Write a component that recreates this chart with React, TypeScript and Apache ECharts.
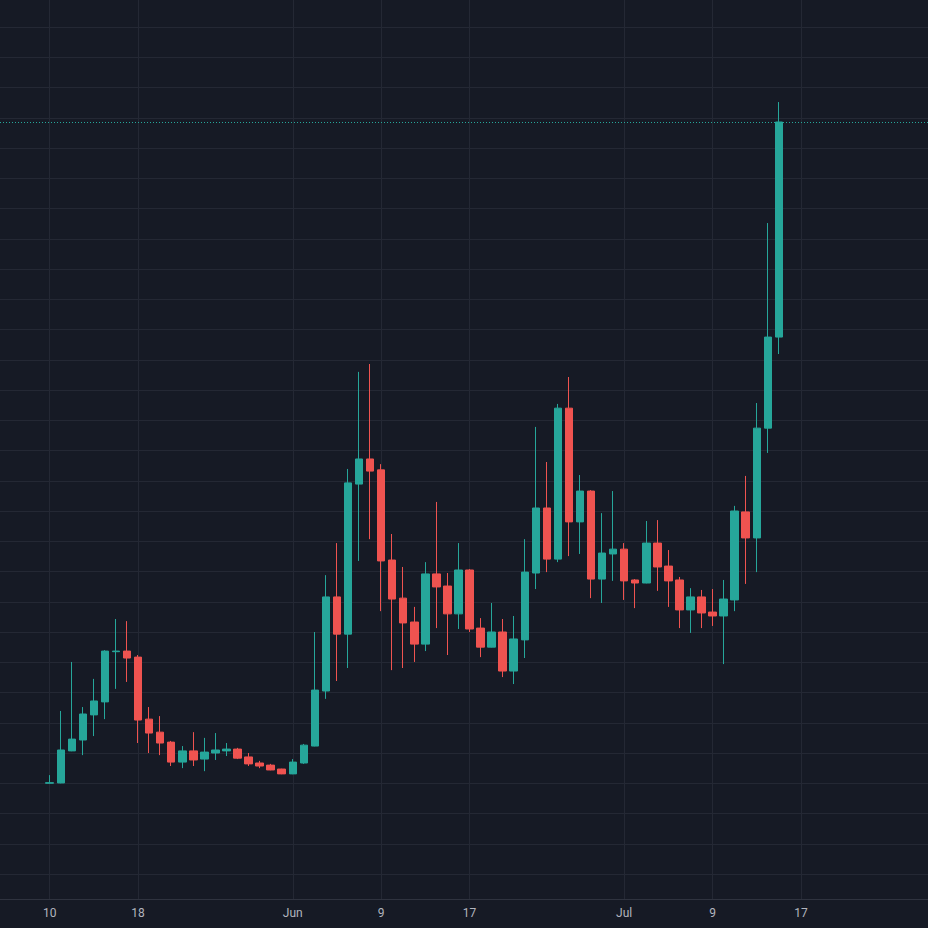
import React, { useEffect, useRef } from "react";
import * as echarts from "echarts";

// Axis range (daily categories) and first candle date
const axisStart = "2024-05-06";
const axisEnd = "2024-07-28";
const firstCandle = "2024-05-10";

// OHLC values (arbitrary price units), one per day from firstCandle
const opens = [
  130.0, 130.1, 140.7, 144.3, 152.6, 156.9, 173.5, 173.7, 171.7, 151.2,
  146.9, 143.6, 137.0, 140.7, 138.0, 140.0, 140.7, 141.3, 138.7, 136.7,
  136.0, 134.7, 133.1, 136.7, 142.3, 160.5, 191.6, 179.3, 228.9, 237.2,
  233.6, 203.8, 191.2, 183.3, 176.0, 199.2, 195.2, 186.0, 200.5, 181.3,
  175.0, 180.0, 167.1, 177.4, 199.5, 221.0, 204.1, 254.0, 216.4, 226.6,
  197.5, 205.8, 207.4, 197.2, 196.2, 209.4, 201.8, 197.2, 187.3, 191.6,
  186.6, 185.3, 190.6, 219.7, 211.1, 247.4, 277.5,
];
const closes = [
  130.2, 141.0, 144.6, 152.9, 157.2, 173.7, 173.7, 171.4, 150.9, 146.6,
  143.3, 137.0, 140.7, 137.7, 140.3, 141.0, 141.3, 138.3, 136.4, 135.7,
  134.4, 133.1, 137.0, 142.6, 160.8, 191.6, 179.3, 229.3, 237.2, 233.2,
  203.5, 190.9, 183.0, 176.0, 199.2, 194.9, 186.0, 200.5, 181.0, 175.0,
  180.0, 167.1, 177.7, 199.8, 221.0, 204.1, 254.0, 216.4, 226.6, 197.5,
  206.1, 207.4, 196.9, 196.2, 209.4, 201.5, 196.9, 187.3, 191.6, 186.3,
  185.3, 190.9, 220.0, 211.1, 247.4, 277.5, 348.6,
];
const lows = [
  129.9, 130.0, 140.6, 139.3, 145.6, 151.2, 161.2, 163.5, 143.3, 140.0,
  139.3, 135.7, 135.0, 135.7, 134.0, 137.7, 139.0, 138.0, 135.7, 135.0,
  134.3, 133.0, 133.0, 136.4, 142.2, 157.9, 163.8, 168.1, 203.5, 210.7,
  186.9, 167.4, 168.1, 170.1, 173.7, 181.3, 172.4, 181.0, 180.0, 171.7,
  174.9, 165.1, 162.8, 171.4, 194.2, 199.8, 203.1, 205.1, 205.8, 191.2,
  189.6, 196.9, 190.6, 187.9, 196.1, 193.6, 188.3, 181.3, 179.7, 181.3,
  182.0, 169.4, 186.9, 195.9, 199.8, 239.2, 271.9,
];
const highs = [
  132.7, 153.9, 170.1, 155.2, 164.5, 174.0, 184.3, 183.6, 172.4, 155.2,
  152.2, 144.0, 142.3, 146.9, 145.0, 146.6, 143.3, 141.7, 140.0, 137.4,
  136.4, 134.8, 138.0, 143.0, 180.0, 198.8, 209.4, 233.9, 266.0, 268.6,
  235.5, 212.4, 201.5, 188.3, 203.1, 223.0, 199.5, 209.4, 200.8, 184.6,
  189.6, 184.3, 185.3, 210.7, 247.8, 236.2, 255.4, 264.3, 231.9, 226.9,
  219.3, 226.6, 209.4, 197.5, 216.7, 217.0, 207.1, 198.2, 194.5, 193.9,
  194.2, 197.2, 221.7, 231.6, 255.7, 315.2, 355.2,
];

// X-axis tick positions and their labels
const tickDates = [
  "2024-05-10", "2024-05-18", "2024-06-01", "2024-06-09",
  "2024-06-17", "2024-07-01", "2024-07-09", "2024-07-17",
];
const tickLabels = ["10", "18", "Jun", "9", "17", "Jul", "9", "17"];

// Horizontal grid levels and value range
const gridLevels = [
  100, 110, 120, 130, 140, 150, 160, 170, 180, 190, 200, 210, 220, 230, 240,
  250, 260, 270, 280, 290, 300, 310, 320, 330, 340, 350, 360, 370, 380,
];
const yMin = 91.74;
const yMax = 388.93;
const lastPrice = closes[closes.length - 1];

function dayList(start: string, count?: number, end?: string): string[] {
  const out: string[] = [];
  const d = new Date(start + "T00:00:00Z");
  const e = end ? new Date(end + "T00:00:00Z") : null;
  while (e ? d <= e : out.length < (count || 0)) {
    out.push(d.toISOString().slice(0, 10));
    d.setUTCDate(d.getUTCDate() + 1);
  }
  return out;
}

const categories = dayList(axisStart, undefined, axisEnd);
const candleDates = dayList(firstCandle, opens.length);

const UP = "#26a69a";
const DOWN = "#ef5350";
const BG = "#161a25";
const GRID = "#242834";

export default function App() {
  const ref = useRef<HTMLDivElement>(null);
  useEffect(() => {
    if (!ref.current) return;
    const chart = echarts.init(ref.current, undefined, { renderer: "svg" });
    const isTick = (_i: number, v: string) => tickDates.indexOf(v) >= 0;
    chart.setOption({
      animation: false,
      backgroundColor: BG,
      grid: { left: 0, right: 0, top: 0, bottom: 29, containLabel: false },
      xAxis: {
        type: "category",
        data: categories,
        boundaryGap: true,
        axisLine: { show: true, lineStyle: { color: "#2f333f", width: 1 } },
        axisTick: { show: false },
        axisLabel: {
          interval: isTick,
          margin: 8,
          color: "#b2b5be",
          fontSize: 12,
          fontFamily: "Roboto, 'Liberation Sans', sans-serif",
          formatter: (v: string) => {
            const k = tickDates.indexOf(v);
            return k >= 0 ? tickLabels[k] : "";
          },
        },
        splitLine: { show: false },
      },
      yAxis: {
        type: "value",
        min: yMin,
        max: yMax,
        show: true,
        axisLine: { show: false },
        axisTick: { show: false },
        axisLabel: { show: false },
        splitLine: { show: false },
      },
      series: [
        {
          type: "line",
          data: [],
          silent: true,
          markLine: {
            silent: true,
            symbol: "none",
            z: 0,
            label: { show: false },
            lineStyle: { color: GRID, width: 1, type: "solid" },
            emphasis: { disabled: true },
            data: [
              ...gridLevels.map((v) => ({ yAxis: v })),
              ...tickDates.map((d) => ({ xAxis: d })),
            ],
          },
        },
        {
          type: "candlestick",
          z: 3,
          barWidth: 8,
          encode: { x: 0, y: [1, 2, 3, 4] },
          data: opens.map((o, i) => [candleDates[i], o, closes[i], lows[i], highs[i]]),
          itemStyle: {
            color: UP,
            color0: DOWN,
            borderColor: UP,
            borderColor0: DOWN,
            borderWidth: 1,
          },
          markLine: {
            silent: true,
            symbol: "none",
            z: 5,
            label: { show: false },
            lineStyle: { color: UP, width: 1, type: [1, 2] },
            emphasis: { disabled: true },
            data: [{ yAxis: lastPrice }],
          },
        },
      ],
    });
    return () => chart.dispose();
  }, []);
  return (
    <div
      ref={ref}
      style={{ position: "fixed", left: 0, top: 0, width: 928, height: 928, background: BG }}
    />
  );
}
